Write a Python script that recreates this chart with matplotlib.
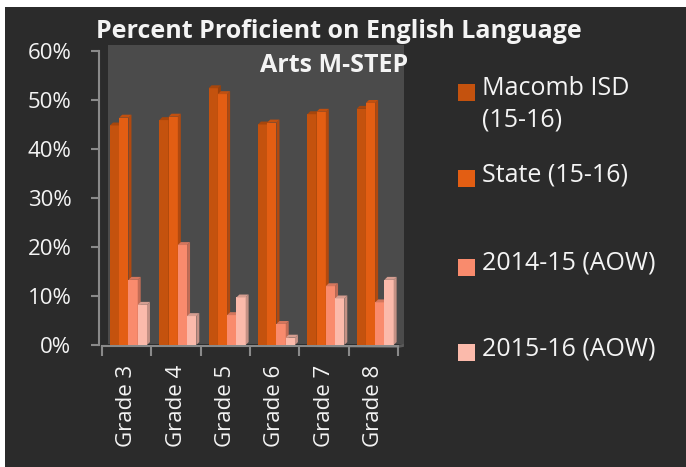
import numpy as np
import matplotlib
matplotlib.use("Agg")
import matplotlib.pyplot as plt
from matplotlib.patches import Rectangle, Polygon

# ---- data ----
grades = ['Grade 3', 'Grade 4', 'Grade 5', 'Grade 6', 'Grade 7', 'Grade 8']
series_names = ['Macomb ISD\n(15-16)', 'State (15-16)', '2014-15 (AOW)', '2015-16 (AOW)']
macomb = [44.8, 45.9, 52.4, 45.0, 47.1, 48.2]
state = [46.4, 46.6, 51.2, 45.4, 47.6, 49.4]
aow_1415 = [13.3, 20.4, 6.1, 4.3, 12.0, 8.7]
aow_1516 = [8.2, 5.9, 9.7, 1.5, 9.5, 13.3]
yticks = [0, 10, 20, 30, 40, 50, 60]

colors = ['#C4520E', '#E35E13', '#F98B6D', '#FBBAAB']
bg = '#2B2B2B'
wall = '#4B4B4B'
txt = '#F4F4F4'
axis_col = '#8A8A8A'

plt.rcParams['font.family'] = ['Open Sans', 'DejaVu Sans']

W, H = 686, 467
fig = plt.figure(figsize=(W / 100, H / 100), dpi=100, facecolor='white')
# dark chart area (small white margin top/left like the screenshot)
fig.patches.append(Rectangle((5 / W, 0), 1 - 5 / W, 1 - 7 / H, transform=fig.transFigure,
                             facecolor=bg, edgecolor='none', zorder=-10))

ax = fig.add_axes([102 / W, (H - 345) / H, 296 / W, 294 / H])
ax.set_zorder(1)
ax.set_facecolor('none')
ax.set_xlim(-0.5, 5.5)
ax.set_ylim(0, 60)

# pseudo-3D depth (data units)
ddx, ddy = 0.12, 1.2
bdx, bdy = 0.06, 0.6

# back wall + floor
ax.add_patch(Rectangle((-0.5 + ddx, ddy * 0.2), 6, 60 + ddy - 0.2, facecolor=wall,
                       edgecolor='none', zorder=0, clip_on=False))
ax.add_patch(Polygon([(-0.5, 0), (5.5, 0), (5.5 + ddx, ddy * 0.2), (5.5 + ddx, -ddy * 0.3),
                      (5.5, -ddy * 0.5)], closed=True, facecolor='#5A5A5A',
                     edgecolor='none', zorder=0, clip_on=False))


def shade(c, f):
    rgb = np.array(matplotlib.colors.to_rgb(c))
    return tuple(rgb * f)


data = [macomb, state, aow_1415, aow_1516]
bw = 0.1875
x = np.arange(len(grades))
for j, vals in enumerate(data):
    pos = x - 0.5 + 0.162 + j * bw
    bars = ax.bar(pos, vals, width=bw, align='edge', color=colors[j], edgecolor='none',
                  zorder=3 + j)
    for b, v in zip(pos, vals):
        # side face
        ax.add_patch(Polygon([(b + bw, 0), (b + bw + bdx, bdy), (b + bw + bdx, v + bdy), (b + bw, v)],
                             closed=True, facecolor=shade(colors[j], 0.78), edgecolor='none',
                             zorder=3 + j, clip_on=False))
        # top face
        ax.add_patch(Polygon([(b, v), (b + bdx, v + bdy), (b + bw + bdx, v + bdy), (b + bw, v)],
                             closed=True, facecolor=shade(colors[j], 0.85), edgecolor='none',
                             zorder=3 + j, clip_on=False))

# axes styling
for s in ['top', 'right']:
    ax.spines[s].set_visible(False)
for s in ['left', 'bottom']:
    ax.spines[s].set_color(axis_col)
    ax.spines[s].set_linewidth(1.5)
ax.spines['left'].set_position(('outward', 2))
ax.spines['bottom'].set_position(('outward', 1))

ax.set_yticks(yticks)
ax.set_yticklabels([f'{t}%' for t in yticks], color=txt, fontsize=16)
ax.tick_params(axis='y', length=6, width=1.5, color=axis_col, pad=14)

ax.set_xticks(np.arange(-0.5, 6, 1), minor=False)
ax.set_xticklabels([])
ax.tick_params(axis='x', which='major', length=7, width=1.5, color=axis_col)
ax.set_xticks(x, minor=True)
ax.set_xticklabels(grades, minor=True, rotation=90, color=txt, fontsize=16)
ax.tick_params(axis='x', which='minor', length=0, pad=13)

# title
fig.text(339 / W, 1 - 31 / H, 'Percent Proficient on English Language', ha='center', va='center',
         color=txt, fontsize=18, fontweight='bold')
fig.text(334 / W, 1 - 65 / H, 'Arts M-STEP', ha='center', va='center',
         color=txt, fontsize=18, fontweight='bold')

# legend
leg_y = [92, 178, 267, 352]
for name, c, yy in zip(series_names, colors, leg_y):
    fig.patches.append(Rectangle((458 / W, 1 - (yy + 8.5) / H), 17 / W, 17 / H,
                                 transform=fig.transFigure, facecolor=c, edgecolor='none'))
    fig.text(482 / W, 1 - (yy - 16) / H, name, ha='left', va='top', color=txt,
             fontsize=18, linespacing=1.35)

fig.savefig('out.png', dpi=100, facecolor=fig.get_facecolor())
